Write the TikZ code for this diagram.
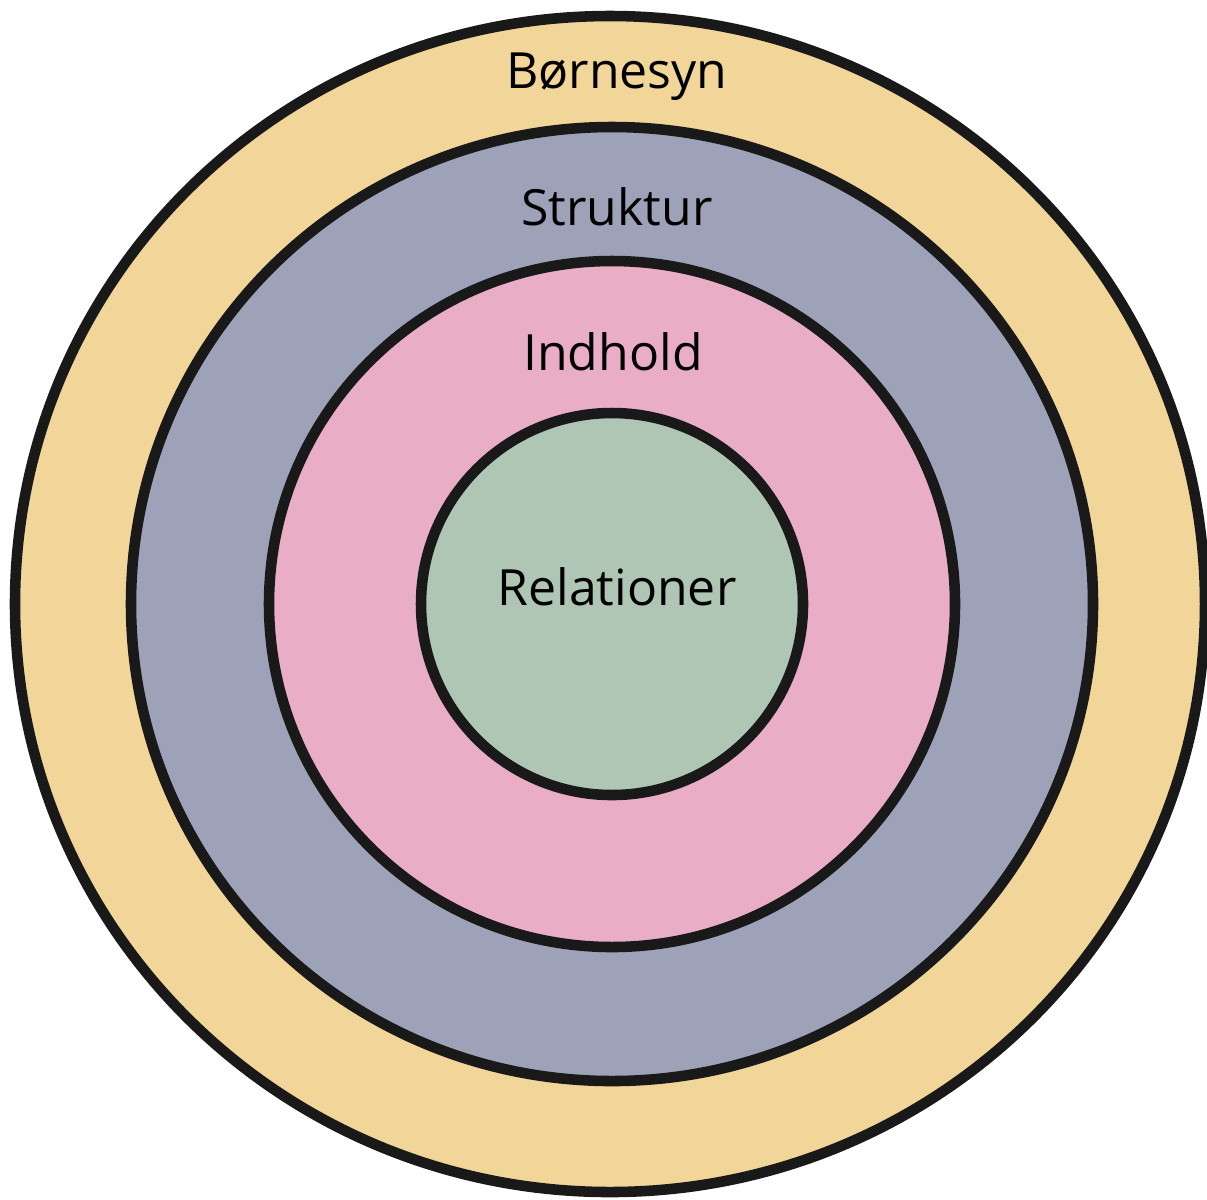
\documentclass[tikz,border=0pt]{standalone}
\usepackage{fontspec}
\setmainfont{Open Sans}
\usepackage{tikz}
\usetikzlibrary{positioning}
\usepackage{xcolor}
\definecolor{ringyellow}{HTML}{F2D598}
\definecolor{ringblue}{HTML}{9EA2B8}
\definecolor{ringpink}{HTML}{E9AEC5}
\definecolor{ringgreen}{HTML}{AFC6B4}

\begin{document}
\begin{tikzpicture}[x=0.01cm,y=-0.01cm,ring/.style={draw=black!90,line width=3pt},lbl/.style={font=\fontsize{14.2}{17}\selectfont,inner sep=0pt}]
\useasboundingbox (0,0) rectangle (1207,1199);
\fill[white] (0,0) rectangle (1207,1199);
\coordinate (c) at (612,604);
\draw[ring,fill=ringyellow] (610,604) ellipse[x radius=595,y radius=588];
\draw[ring,fill=ringblue] (c) ellipse[x radius=481,y radius=477];
\draw[ring,fill=ringpink] (c) circle[radius=343];
\draw[ring,fill=ringgreen] (c) circle[radius=191];
\node[lbl] (boern) at (617,77) {Børnesyn};
\node[lbl] (strukt) at (617,207) {Struktur};
\node[lbl] (indh) at (613,352) {Indhold};
\node[lbl] (rel) at (617,587) {Relationer};
\end{tikzpicture}
\end{document}
